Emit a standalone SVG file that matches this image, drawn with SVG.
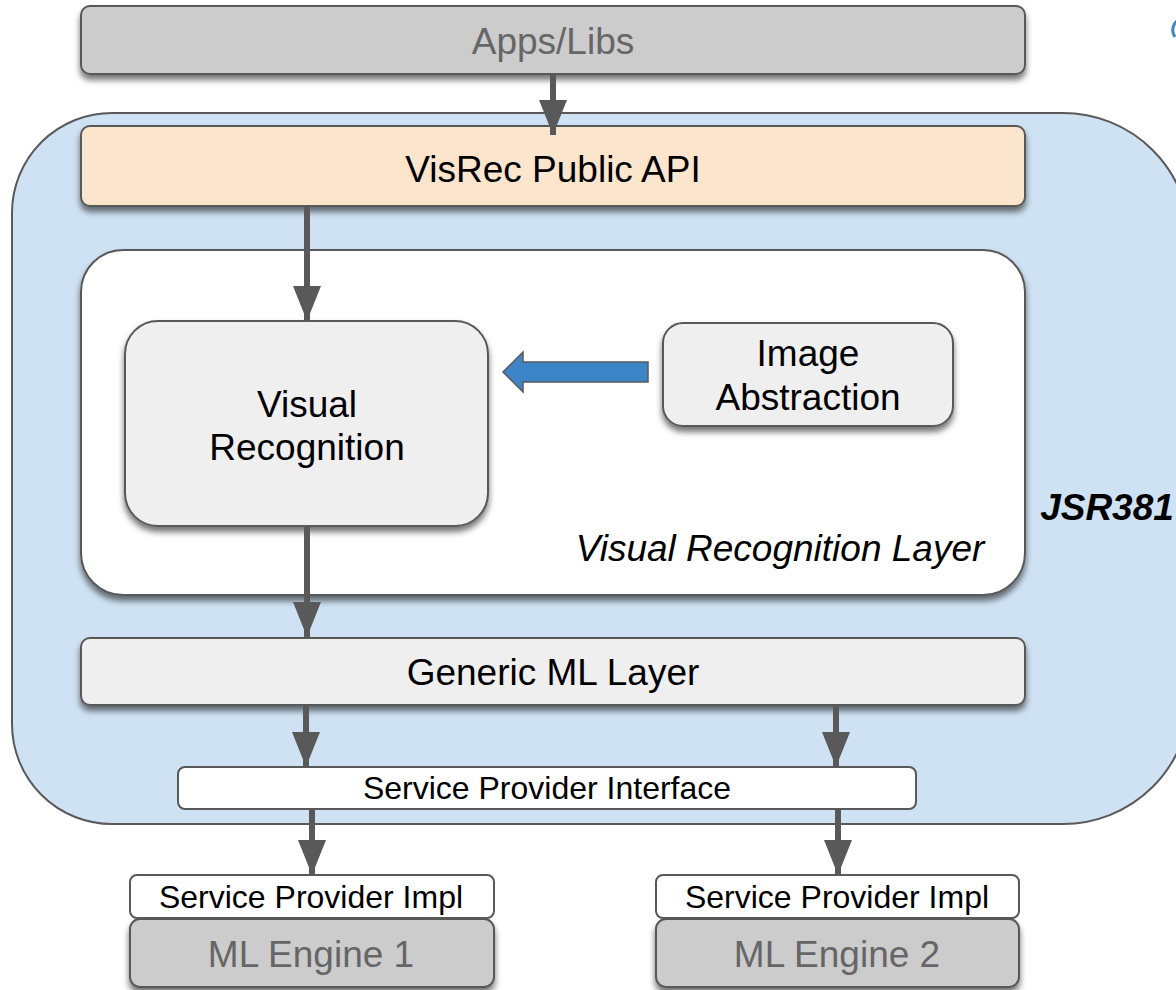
<svg xmlns="http://www.w3.org/2000/svg" width="1176" height="990" viewBox="0 0 1176 990">
<defs>
<filter id="sh" x="-10%" y="-20%" width="120%" height="160%">
<feDropShadow dx="0" dy="5" stdDeviation="3" flood-color="#000" flood-opacity="0.55"/>
</filter>
<marker id="ah" markerUnits="userSpaceOnUse" markerWidth="36" markerHeight="28" refX="35" refY="14" orient="auto">
<path d="M0,0 L35,14 L0,28 Z" fill="#595959"/>
</marker>
</defs>
<style>
.box{stroke:#595959;stroke-width:2}
.t{font-family:"Liberation Sans",Arial,sans-serif;text-anchor:middle;fill:#000;font-size:37px}
.s{font-size:32px}
.g{fill:#666666}
.conn line{stroke:#595959;stroke-width:6;marker-end:url(#ah)}
</style>
<rect width="1176" height="990" fill="#ffffff"/>

<g id="apps">
<rect class="box" x="81" y="6" width="944" height="68" rx="9" fill="#cccccc" filter="url(#sh)"/>
<text class="t g" x="553" y="54">Apps/Libs</text>
</g>

<g id="jsr381">
<path class="box" d="M112,113 L1063,113 A127,127 0 0 1 1190,240 L1190,697 A127,127 0 0 1 1063,824 L112,824 A100,100 0 0 1 12,724 L12,213 A100,100 0 0 1 112,113 Z" fill="#cfe2f3"/>
<text class="t" x="1107" y="520" font-size="36" font-weight="bold" font-style="italic">JSR381</text>
</g>

<g id="api">
<rect class="box" x="81" y="126" width="944" height="80" rx="9" fill="#fce5cd" filter="url(#sh)"/>
<text class="t" x="553" y="182">VisRec Public API</text>
</g>

<g id="vrlayer">
<rect class="box" x="81" y="250" width="944" height="345" rx="42" fill="#ffffff" filter="url(#sh)"/>
<text class="t" x="780" y="561" font-style="italic">Visual Recognition Layer</text>
</g>

<g id="visrec">
<rect class="box" x="125" y="321" width="363" height="205" rx="33" fill="#efefef" filter="url(#sh)"/>
<text class="t" x="307" y="417">Visual</text>
<text class="t" x="307" y="460">Recognition</text>
</g>

<g id="imgabs">
<rect class="box" x="663" y="323" width="290" height="103" rx="20" fill="#efefef" filter="url(#sh)"/>
<text class="t" x="808" y="366">Image</text>
<text class="t" x="808" y="410">Abstraction</text>
</g>

<g id="generic">
<rect class="box" x="81" y="638" width="944" height="67" rx="9" fill="#efefef" filter="url(#sh)"/>
<text class="t" x="553" y="685">Generic ML Layer</text>
</g>

<g id="spi">
<rect class="box" x="178" y="767" width="738" height="42" rx="7" fill="#ffffff"/>
<text class="t s" x="547" y="799">Service Provider Interface</text>
</g>

<g id="engine1">
<rect class="box" x="130" y="919" width="364" height="68" rx="10" fill="#cccccc" filter="url(#sh)"/>
<text class="t g" x="311" y="967">ML Engine 1</text>
</g>
<g id="impl1">
<rect class="box" x="130" y="875" width="364" height="43" rx="7" fill="#ffffff"/>
<text class="t s" x="311" y="908">Service Provider Impl</text>
</g>

<g id="engine2">
<rect class="box" x="656" y="919" width="363" height="68" rx="10" fill="#cccccc" filter="url(#sh)"/>
<text class="t g" x="837" y="967">ML Engine 2</text>
</g>
<g id="impl2">
<rect class="box" x="656" y="875" width="363" height="43" rx="7" fill="#ffffff"/>
<text class="t s" x="837" y="908">Service Provider Impl</text>
</g>

<g id="connectors" class="conn">
<line x1="553" y1="74" x2="553" y2="135"/>
<line x1="307" y1="207" x2="307" y2="321"/>
<line x1="307" y1="526" x2="307" y2="637"/>
<line x1="306" y1="705" x2="306" y2="767"/>
<line x1="836" y1="705" x2="836" y2="767"/>
<line x1="312" y1="809" x2="312" y2="875"/>
<line x1="838" y1="809" x2="838" y2="875"/>
<path d="M648,362 L523,362 L523,352 L503,372 L523,392 L523,382 L648,382 Z" fill="#3d85c6" stroke="#595959" stroke-width="1.5"/>
</g>

<path d="M1180,19 A12,12 0 0 0 1175,37" fill="none" stroke="#3d85c6" stroke-width="3"/>
</svg>
